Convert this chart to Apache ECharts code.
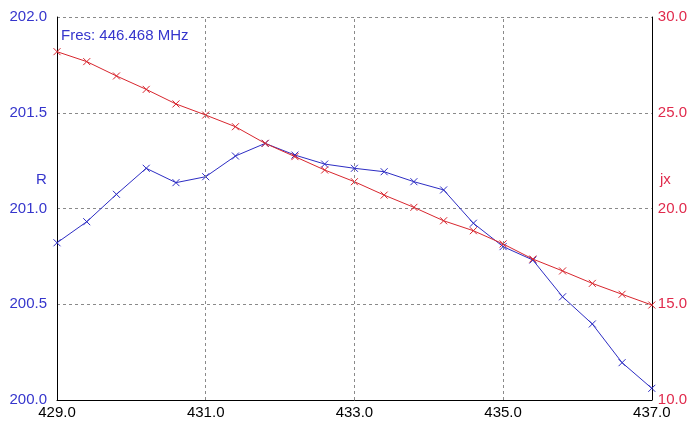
<!DOCTYPE html>
<html>
<head>
<meta charset="utf-8">
<script src="https://cdn.jsdelivr.net/npm/echarts@6/dist/echarts.min.js"></script>
<style>
html,body{margin:0;padding:0;background:#fff;}
#c{width:690px;height:433px;}
</style>
</head>
<body>
<div id="c"></div>
<script>
var freqs = [429.0, 429.4, 429.8, 430.2, 430.6, 431.0, 431.4, 431.8, 432.2, 432.6, 433.0,
             433.4, 433.8, 434.2, 434.6, 435.0, 435.4, 435.8, 436.2, 436.6, 437.0];
var rValues = [200.821, 200.931, 201.074, 201.210, 201.135, 201.166, 201.274, 201.340, 201.279, 201.232, 201.210,
               201.192, 201.140, 201.097, 200.923, 200.801, 200.731, 200.539, 200.397, 200.195, 200.061];
var jxValues = [28.19, 27.67, 26.92, 26.22, 25.46, 24.88, 24.27, 23.40, 22.71, 22.01, 21.40,
                20.70, 20.06, 19.36, 18.84, 18.15, 17.36, 16.74, 16.09, 15.52, 14.96];
var xGridValues = [431, 433, 435];
var fresText = 'Fres: 446.468 MHz';

var BLUE = '#2d2dc4';
var RED = '#d8262e';
var BLUE_TXT = '#3535cc';
var RED_TXT = '#e02a4c';
var FONT = '"Liberation Sans", Arial, sans-serif';
var XSYM = 'path://M0,0L10,10M10,0L0,10';

function pairs(xs, ys){ return xs.map(function(x,i){ return [x, ys[i]]; }); }

var chart = echarts.init(document.getElementById('c'), null, {renderer:'canvas'});
chart.setOption({
  animation:false,
  backgroundColor:'#fff',
  grid:{left:57, right:38, top:17, bottom:33, containLabel:false},
  xAxis:{
    type:'value', min:429, max:437, interval:2,
    axisLine:{show:true, onZero:false, lineStyle:{color:'#000', width:1}},
    axisTick:{show:false},
    splitLine:{show:false},
    axisLabel:{color:'#000', fontSize:15, fontFamily:FONT, margin:5,
      formatter:function(v){ return v.toFixed(1); }}
  },
  yAxis:[{
    type:'value', min:200, max:202, interval:0.5, position:'left',
    axisLine:{show:true, lineStyle:{color:'#000', width:1}},
    axisTick:{show:false},
    splitLine:{show:true, lineStyle:{color:'#8a8a8a', type:[3,3], width:1}},
    axisLabel:{color:BLUE_TXT, fontSize:15, fontFamily:FONT, margin:10,
      formatter:function(v){ return v.toFixed(1); }}
  },{
    type:'value', min:10, max:30, interval:5, position:'right',
    axisLine:{show:true, lineStyle:{color:'#000', width:1}},
    axisTick:{show:false},
    splitLine:{show:false},
    axisLabel:{color:RED_TXT, fontSize:15, fontFamily:FONT, margin:6,
      formatter:function(v){ return v.toFixed(1); }}
  }],
  series:[{
    name:'R', type:'line', yAxisIndex:0,
    data:pairs(freqs, rValues),
    symbol:XSYM, symbolSize:7,
    lineStyle:{color:BLUE, width:1},
    itemStyle:{color:BLUE, borderColor:BLUE, borderWidth:1},
    markLine:{
      silent:true, symbol:'none', label:{show:false},
      lineStyle:{color:'#8a8a8a', type:[3,3], width:1},
      data:xGridValues.map(function(v){ return {xAxis:v}; })
    },
    z:3
  },{
    name:'jx', type:'line', yAxisIndex:1,
    data:pairs(freqs, jxValues),
    symbol:XSYM, symbolSize:7,
    lineStyle:{color:RED, width:1},
    itemStyle:{color:RED, borderColor:RED, borderWidth:1},
    z:4
  }],
  graphic:[
    {type:'text', left:61, top:28, style:{text:fresText, fill:BLUE_TXT, font:'15px ' + FONT}},
    {type:'text', left:36, top:172, style:{text:'R', fill:BLUE_TXT, font:'15px ' + FONT}},
    {type:'text', left:660, top:172, style:{text:'jx', fill:RED_TXT, font:'15px ' + FONT}}
  ]
});
</script>
</body>
</html>
